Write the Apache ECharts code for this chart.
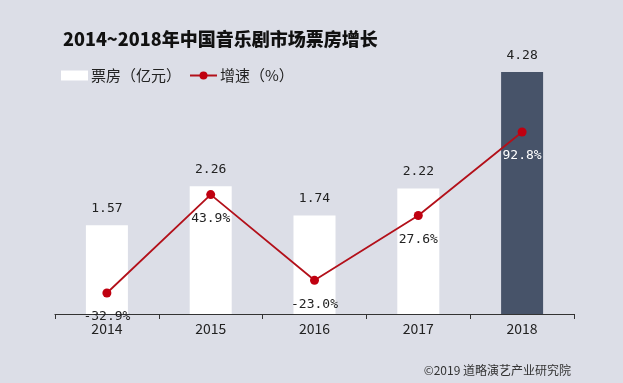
<!DOCTYPE html>
<html>
<head>
<meta charset="utf-8">
<script src="https://cdn.jsdelivr.net/npm/echarts@6/dist/echarts.min.js"></script>
<style>
html,body{margin:0;padding:0;background:#dcdee7;}
#c{width:623px;height:383px;}
</style>
</head>
<body>
<div id="c"></div>
<script>
const categories = ['2014', '2015', '2016', '2017', '2018'];
const boxOffice = [1.57, 2.26, 1.74, 2.22, 4.28];
const growth = [-32.9, 43.9, -23.0, 27.6, 92.8];
const titleText = '2014~2018年中国音乐剧市场票房增长';
const barName = '票房（亿元）';
const lineName = '增速（%）';
const sourceText = '©2019 道略演艺产业研究院';

const chart = echarts.init(document.getElementById('c'), null, {renderer: 'canvas'});
const mono = '"DejaVu Sans Mono", monospace';
const cjk = '"Noto Sans CJK SC", "Noto Sans", sans-serif';

chart.setOption({
  backgroundColor: '#dcdee7',
  animation: false,
  title: [{
    text: titleText,
    left: 58, top: 25,
    textStyle: {fontFamily: cjk, fontSize: 18, fontWeight: 900, color: '#111'}
  }, {
    text: sourceText,
    right: 47, top: 359,
    textStyle: {fontFamily: cjk, fontSize: 12, fontWeight: 'normal', color: '#333'}
  }],
  legend: {
    left: 56, top: 63,
    itemGap: 8,
    itemWidth: 27, itemHeight: 10,
    textStyle: {fontFamily: cjk, fontSize: 15, color: '#222', padding: [0, 0, 0, -2]},
    data: [
      {name: barName, icon: 'rect', itemStyle: {color: '#ffffff'}},
      {name: lineName}
    ]
  },
  grid: {left: 55, right: 49, top: 72, bottom: 69, containLabel: false},
  xAxis: {
    type: 'category',
    data: categories,
    axisLine: {lineStyle: {color: '#333', width: 1.2}},
    axisTick: {show: true, length: 5, lineStyle: {color: '#333'}},
    axisLabel: {fontFamily: cjk, fontSize: 14, color: '#222', margin: 8}
  },
  yAxis: [{
    type: 'value', min: 0, max: 4.28, show: false
  }, {
    type: 'value', min: -49.3, max: 139.6, show: false
  }],
  series: [{
    name: barName,
    type: 'bar',
    barWidth: 42,
    data: boxOffice.map((v, i) => ({
      value: v,
      itemStyle: {color: i === boxOffice.length - 1 ? '#475369' : '#ffffff'}
    })),
    itemStyle: {color: '#ffffff'},
    label: {
      show: true, position: 'top', distance: 10,
      fontFamily: mono, fontSize: 13, color: '#222',
      formatter: p => p.value.toFixed(2)
    },
    z: 2
  }, {
    name: lineName,
    type: 'line',
    yAxisIndex: 1,
    data: growth.map((v, i) => i === growth.length - 1 ? {value: v, label: {color: '#ffffff'}} : v),
    symbol: 'circle',
    symbolSize: 9,
    lineStyle: {color: '#b3101a', width: 1.8},
    itemStyle: {color: '#c00010'},
    label: {
      show: true, position: 'bottom', distance: 13,
      fontFamily: mono, fontSize: 13,
      color: '#222',
      formatter: p => p.value.toFixed(1) + '%'
    },
    labelLayout: {hideOverlap: false},
    z: 3
  }]
});
</script>
</body>
</html>
